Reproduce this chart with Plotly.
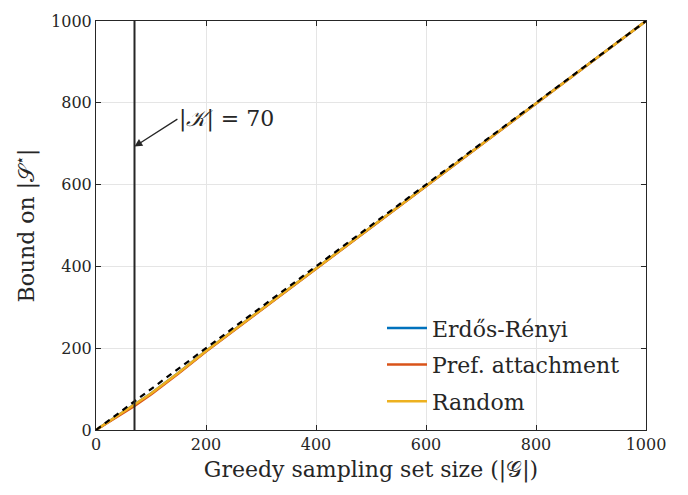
import plotly.graph_objects as go

x_vals = [0, 20, 40, 60, 70, 100, 150, 200, 300, 400, 500, 600, 700, 800, 900, 1000]
erdos_renyi = [0, 18, 36, 53, 61, 89, 140, 193, 294, 395, 496, 597, 698, 799, 899, 1000]
pref_attach = [0, 17, 35, 52, 59, 87, 138, 192, 293, 394, 495, 596, 697, 798, 899, 1000]
random_g = [0, 18, 37, 54, 62, 89, 140, 193, 294, 395, 496, 597, 698, 799, 899, 1000]
bound_x = [0, 1000]
bound_y = [0, 1000]
k_size = 70

FONT = "DejaVu Serif, Liberation Serif, serif"
TXT = "#262626"
fig = go.Figure()
fig.add_trace(go.Scatter(x=x_vals, y=erdos_renyi, mode="lines", name="Erdős-Rényi", legend="legend",
                         line=dict(color="#0072BD", width=2.5)))
fig.add_trace(go.Scatter(x=x_vals, y=pref_attach, mode="lines", name="Pref. attachment", legend="legend2",
                         line=dict(color="#D95319", width=2.5)))
fig.add_trace(go.Scatter(x=x_vals, y=random_g, mode="lines", name="Random", legend="legend3",
                         line=dict(color="#EDB120", width=2.5)))
fig.add_trace(go.Scatter(x=bound_x, y=bound_y, mode="lines", showlegend=False,
                         line=dict(color="black", width=2.2, dash="6px,5px")))
fig.add_trace(go.Scatter(x=[k_size, k_size], y=[0, 1000], mode="lines", showlegend=False,
                         line=dict(color=TXT, width=2)))

fig.add_annotation(x=k_size, y=693, ax=148, ay=760, xref="x", yref="y", axref="x", ayref="y",
                   showarrow=True, arrowhead=2, arrowsize=1.2, arrowwidth=1.3, arrowcolor=TXT,
                   text="|<i>𝒦</i>| = 70", xanchor="left", yanchor="middle",
                   font=dict(family=FONT, size=22, color=TXT))

axis_common = dict(showgrid=True, gridcolor="#E5E5E5", gridwidth=1, showline=True, linecolor=TXT,
                   linewidth=1, mirror="ticks", ticks="inside", ticklen=5, tickcolor=TXT,
                   tickfont=dict(family=FONT, size=16, color=TXT), zeroline=False)
leg_common = dict(xanchor="left", yanchor="middle", bgcolor="rgba(0,0,0,0)",
                  font=dict(family=FONT, size=22, color=TXT), itemwidth=40)
# legend rows centred at 327, 364, 401 px; plot area y from 16 to 430
def ypos(px):
    return (430 - px) / 414.0

fig.update_layout(
    width=688, height=495, plot_bgcolor="white", paper_bgcolor="white",
    margin=dict(l=96, r=42, t=16, b=65),
    xaxis=dict(range=[0, 1000], tickvals=[0, 200, 400, 600, 800, 1000],
               title=dict(text="Greedy sampling set size (|𝒢|)", font=dict(family=FONT, size=22, color=TXT), standoff=8),
               **axis_common),
    yaxis=dict(range=[0, 1000], tickvals=[0, 200, 400, 600, 800, 1000],
               title=dict(text="Bound on |𝒮<sup>⋆</sup>|", font=dict(family=FONT, size=22, color=TXT), standoff=10),
               **axis_common),
    legend=dict(x=0.52, y=ypos(327), **leg_common),
    legend2=dict(x=0.52, y=ypos(364), **leg_common),
    legend3=dict(x=0.52, y=ypos(401), **leg_common),
    showlegend=True,
)
fig.write_html("out.html")
